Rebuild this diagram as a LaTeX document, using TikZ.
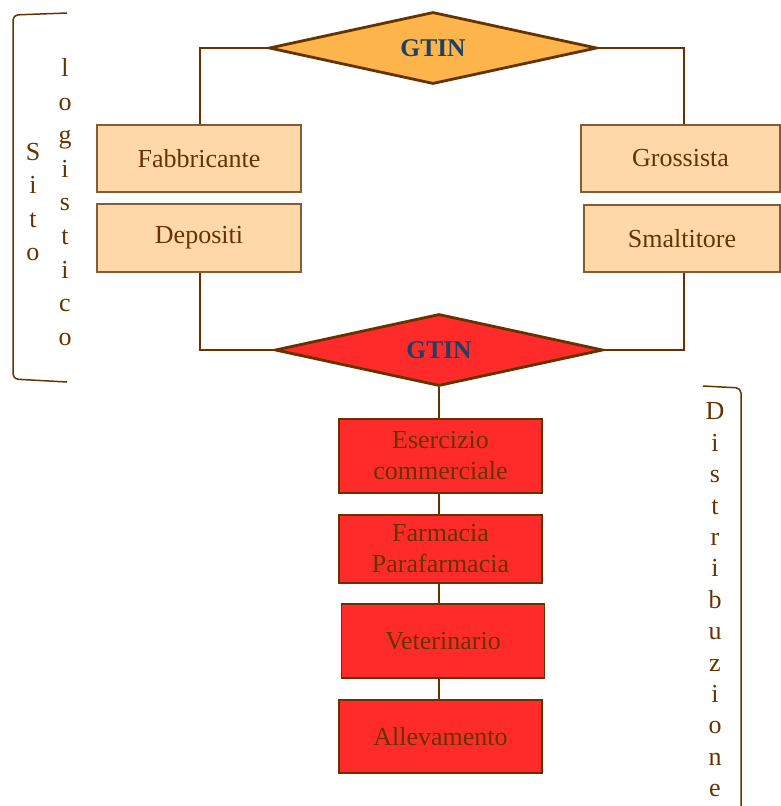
\documentclass[tikz,border=0pt]{standalone}
\usepackage{fontspec}
\setmainfont{Liberation Serif}
\usetikzlibrary{shapes.geometric}
\definecolor{brn}{RGB}{102,51,0}
\definecolor{peach}{RGB}{255,216,170}
\definecolor{orng}{RGB}{253,180,75}
\definecolor{rd}{RGB}{255,43,43}
\definecolor{gtinblue}{RGB}{31,63,99}
\tikzset{
  gtin/.style={diamond, draw=brn, line width=2.8pt, inner sep=0pt, aspect=4.5,
    minimum width=328pt, minimum height=72pt, text=gtinblue,
    font=\fontsize{25.5}{30}\selectfont\bfseries},
  pbox/.style={rectangle, draw=brn!80, line width=1.3pt, fill=peach, text=brn,
    font=\fontsize{26}{31}\selectfont, align=center, inner sep=0pt},
  rbox/.style={rectangle, draw=brn, line width=1.4pt, fill=rd, text=brn,
    font=\fontsize{26}{31}\selectfont, align=center, inner sep=0pt,
    minimum width=203pt},
  conn/.style={draw=brn, line width=2.6pt},
  brace/.style={draw=brn, line width=1.5pt, rounded corners=5pt},
  vlab/.style={text=brn, align=center, inner sep=0pt},
}
\begin{document}
\begin{tikzpicture}[x=1pt,y=-1pt]
\useasboundingbox (0,0) rectangle (780,806);
% diamonds
\node[gtin, fill=orng] (d1) at (433,48) {GTIN};
\node[gtin, fill=rd] (d2) at (439,350) {GTIN};
% peach boxes
\node[pbox, minimum width=204pt, minimum height=67pt] (fab) at (199,158.5) {Fabbricante};
\node[pbox, minimum width=204pt, minimum height=68pt] (dep) at (199,238) {Depositi};
\node[pbox, minimum width=199pt, minimum height=67pt] (gro) at (680.5,158.5) {Grossista};
\node[pbox, minimum width=196pt, minimum height=67pt] (sma) at (682,238.5) {Smaltitore};
% red boxes
\node[rbox, minimum height=74pt] (ese) at (440.5,456) {Esercizio\\commerciale};
\node[rbox, minimum height=68pt] (far) at (440.5,549) {Farmacia\\Parafarmacia};
\node[rbox, minimum height=74pt] (vet) at (443,641) {Veterinario};
\node[rbox, minimum height=73pt] (all) at (440.5,736.5) {Allevamento};
% connectors
\draw[conn] (d1.west) -| ([xshift=1pt]fab.north);
\draw[conn] (d1.east) -| ([xshift=3.5pt]gro.north);
\draw[conn] ([xshift=1pt]dep.south) |- (d2.west);
\draw[conn] ([xshift=2pt]sma.south) |- (d2.east);
\draw[conn] (d2.south) -- (d2.south |- ese.north);
\draw[conn] (d2.south |- ese.south) -- (d2.south |- far.north);
\draw[conn] (d2.south |- far.south) -- (d2.south |- vet.north);
\draw[conn] (d2.south |- vet.south) -- (d2.south |- all.north);
% side labels
\coordinate (b1a) at (67,13);
\coordinate (b1b) at (67,382);
\draw[brace] (b1a) -- (13,15) -- (13,379) -- (b1b);
\node[vlab, font=\fontsize{26}{33.6}\selectfont] (sito) at (33,202) {S\\i\\t\\o};
\node[vlab, font=\fontsize{26}{33.6}\selectfont] (logi) at (65,202) {l\\o\\g\\i\\s\\t\\i\\c\\o};
\coordinate (b2a) at (703,386);
\coordinate (b2b) at (741,806);
\draw[brace] (b2a) -- (741,388) -- (b2b);
\node[vlab, font=\fontsize{26}{31.4}\selectfont] (dist) at (715,600) {D\\i\\s\\t\\r\\i\\b\\u\\z\\i\\o\\n\\e};
\end{tikzpicture}
\end{document}
